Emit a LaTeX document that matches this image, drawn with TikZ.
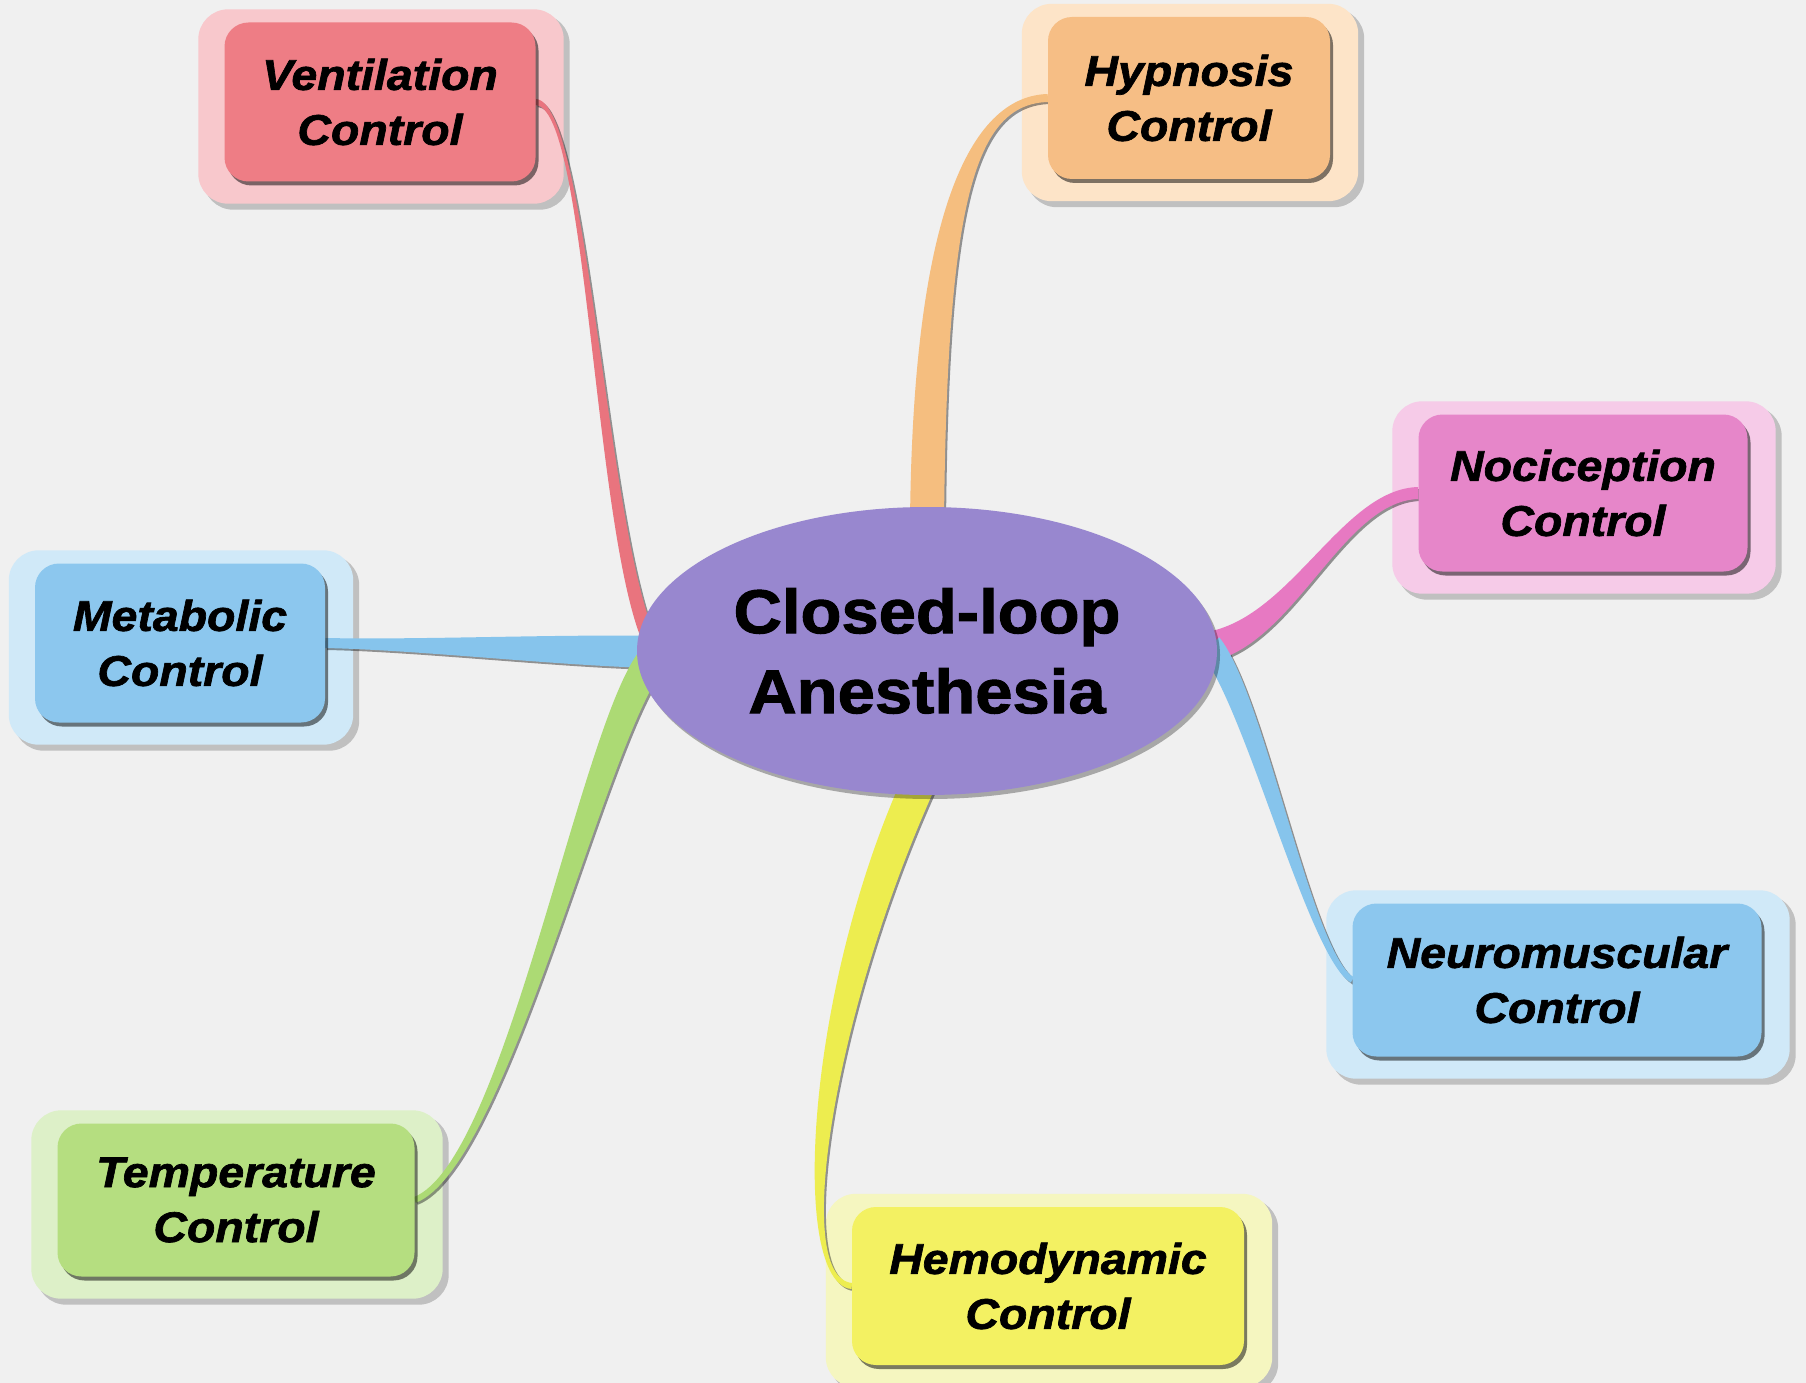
\documentclass[tikz,border=0pt]{standalone}
\usepackage{fontspec}
\newfontfamily\lbs[FakeStretch=1.08, BoldFeatures={FakeBold=1.6}, BoldItalicFeatures={FakeBold=1.6}]{Liberation Sans}
\usetikzlibrary{calc,shapes.geometric,shadows}
\pgfdeclarelayer{bgl}\pgfdeclarelayer{frm}\pgfdeclarelayer{cnl}
\pgfsetlayers{bgl,frm,cnl,main}
\definecolor{bgc}{HTML}{F0F0F0}
\definecolor{ellc}{HTML}{9887CF}
\definecolor{venc}{HTML}{EE7D85}\definecolor{venf}{HTML}{F8C8CC}\definecolor{venl}{HTML}{E9747E}
\definecolor{hypc}{HTML}{F6BE85}\definecolor{hypf}{HTML}{FDE4C8}\definecolor{hypl}{HTML}{F5BE7F}
\definecolor{nocc}{HTML}{E686C9}\definecolor{nocf}{HTML}{F6CBE8}\definecolor{nocl}{HTML}{E779C2}
\definecolor{bluc}{HTML}{8CC7EE}\definecolor{bluf}{HTML}{D0E9F8}\definecolor{blul}{HTML}{86C4EC}
\definecolor{temc}{HTML}{B5DE80}\definecolor{temf}{HTML}{DDF0C8}\definecolor{teml}{HTML}{ACDA74}
\definecolor{hemc}{HTML}{F3F162}\definecolor{hemf}{HTML}{F5F6C0}\definecolor{heml}{HTML}{EDED4F}
\tikzset{
  ctl/.style={rounded corners=24pt, inner sep=0pt, align=center, text=black,
    font=\lbs\bfseries\itshape\fontsize{43}{55}\selectfont,
    drop shadow={shadow xshift=3pt, shadow yshift=-4pt, fill=black, opacity=.5}},
  hub/.style={ellipse, fill=ellc, inner sep=0pt, align=center, text=black,
    font=\lbs\bfseries\fontsize{62}{80}\selectfont,
    drop shadow={shadow xshift=3pt, shadow yshift=-4pt, fill=black, opacity=.3}},
  cshd/.style={fill=black, opacity=.4},
}
% tapered connector: #1 style, #2 A, #3 c1, #4 c2, #5 B, #6 half width at A, #7 at B, #8 offset
\newcommand\tapr[8]{%
  \fill[#1] ($#2!#6!90:#3 + (#8)$) .. controls ($#3!#6!-90:#2 + (#8)$) and ($#4!#7!90:#5 + (#8)$) .. ($#5!#7!-90:#4 + (#8)$)
    -- ($#5!#7!90:#4 + (#8)$) .. controls ($#4!#7!-90:#5 + (#8)$) and ($#3!#6!90:#2 + (#8)$) .. ($#2!#6!-90:#3 + (#8)$) -- cycle;}
\newcommand\outerfr[2]{%
  \fill[black, opacity=.2, rounded corners=30pt] ($(#1.north west)+(-21,-8)$) rectangle ($(#1.south east)+(34,28)$);
  \fill[#2, rounded corners=30pt] ($(#1.north west)+(-26,-13)$) rectangle ($(#1.south east)+(28,22)$);}
\begin{document}
\begin{tikzpicture}[x=1pt,y=-1pt]
\begin{pgfonlayer}{bgl}
  \fill[bgc] (0,0) rectangle (1806,1383);
\end{pgfonlayer}
\useasboundingbox (0,0) rectangle (1806,1383);

\node[ctl, fill=venc, minimum width=311pt, minimum height=159pt] (v) at (380,102) {Ventilation\\Control};
\node[ctl, fill=hypc, minimum width=282pt, minimum height=162pt] (h) at (1189,98) {Hypnosis\\Control};
\node[ctl, fill=nocc, minimum width=329pt, minimum height=157pt] (n) at (1583,493) {Nociception\\Control};
\node[ctl, fill=bluc, minimum width=290pt, minimum height=159pt] (m) at (180,643) {Metabolic\\Control};
\node[ctl, fill=bluc, minimum width=409pt, minimum height=153pt] (nm) at (1557,980) {Neuromuscular\\Control};
\node[ctl, fill=temc, minimum width=357pt, minimum height=153pt] (t) at (236,1200) {Temperature\\Control};
\node[ctl, fill=hemc, minimum width=392pt, minimum height=158pt] (hd) at (1048,1286) {Hemodynamic\\Control};
\node[hub, minimum width=580pt, minimum height=288pt] (cl) at (927,651) {Closed-loop\\Anesthesia};

\begin{pgfonlayer}{frm}
  \outerfr{v}{venf}
  \outerfr{h}{hypf}
  \outerfr{n}{nocf}
  \outerfr{m}{bluf}
  \outerfr{nm}{bluf}
  \outerfr{t}{temf}
  \outerfr{hd}{hemf}
\end{pgfonlayer}

% control points and ends inside the hub
\coordinate (v1) at (588,104);   \coordinate (v2) at (600,540);   \coordinate (ve) at ($(cl.center)+(-275,-5)$);
\coordinate (h1) at (975,100);   \coordinate (h2) at (930,200);   \coordinate (he) at ($(cl.center)+(0,-129)$);
\coordinate (n1) at (1340,495);  \coordinate (n2) at (1290,640);  \coordinate (ne) at ($(cl.center)+(273,-3)$);
\coordinate (m1) at (420,645);   \coordinate (m2) at (560,650);   \coordinate (me) at ($(cl.center)+(-272,1)$);
\coordinate (nm1) at (1310,955); \coordinate (nm2) at (1255,700); \coordinate (nme) at ($(cl.center)+(283,-6)$);
\coordinate (t1) at (505,1165);  \coordinate (t2) at (590,745);   \coordinate (te) at ($(cl.center)+(-277,11)$);
\coordinate (hd1) at (790,1280); \coordinate (hd2) at (820,1000); \coordinate (hde) at ($(cl.center)+(-7,129)$);

\begin{pgfonlayer}{cnl}
  \tapr{cshd}{(v.east)}{(v1)}{(v2)}{(ve)}{3pt}{7pt}{2,2}
  \tapr{cshd}{(h.west)}{(h1)}{(h2)}{(he)}{4pt}{17pt}{2,2}
  \tapr{cshd}{(n.west)}{(n1)}{(n2)}{(ne)}{6pt}{15pt}{2,2}
  \tapr{cshd}{(m.east)}{(m1)}{(m2)}{(me)}{5pt}{16pt}{2,2}
  \tapr{cshd}{(nm.west)}{(nm1)}{(nm2)}{(nme)}{3pt}{12pt}{2,2}
  \tapr{cshd}{(t.east)}{(t1)}{(t2)}{(te)}{3pt}{15pt}{2,2}
  \tapr{cshd}{(hd.west)}{(hd1)}{(hd2)}{(hde)}{3pt}{17pt}{2,2}
  \tapr{venl}{(v.east)}{(v1)}{(v2)}{(ve)}{3pt}{7pt}{0,0}
  \tapr{hypl}{(h.west)}{(h1)}{(h2)}{(he)}{4pt}{17pt}{0,0}
  \tapr{nocl}{(n.west)}{(n1)}{(n2)}{(ne)}{6pt}{15pt}{0,0}
  \tapr{blul}{(m.east)}{(m1)}{(m2)}{(me)}{5pt}{16pt}{0,0}
  \tapr{blul}{(nm.west)}{(nm1)}{(nm2)}{(nme)}{3pt}{12pt}{0,0}
  \tapr{teml}{(t.east)}{(t1)}{(t2)}{(te)}{3pt}{15pt}{0,0}
  \tapr{heml}{(hd.west)}{(hd1)}{(hd2)}{(hde)}{3pt}{17pt}{0,0}
\end{pgfonlayer}
\end{tikzpicture}
\end{document}
